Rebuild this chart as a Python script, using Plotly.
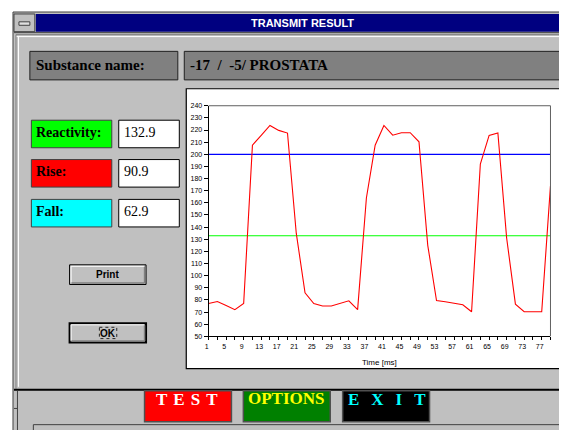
import plotly.graph_objects as go

# ---------------- data ----------------
time_ms = [1, 3, 5, 7, 9, 11, 13, 15, 17, 19, 21, 23, 25, 27, 29, 31, 33, 35, 37, 39,
           41, 43, 45, 47, 49, 51, 53, 55, 57, 59, 61, 63, 65, 67, 69, 71, 73, 75, 77, 79]
signal = [77, 78.7, 75.5, 72, 77, 207.5, 215.6, 223.8, 219.7, 217.5,
          135, 85.8, 77, 75, 75, 77, 79.3, 72, 164, 207.5,
          223.8, 215.7, 217.8, 217.8, 210.3, 125, 79.5, 78.5, 77.1, 76,
          70.3, 192, 215.6, 217.5, 131, 76.5, 70.3, 70.3, 70.3, 174]
x_tick_labels = [1, 5, 9, 13, 17, 21, 25, 29, 33, 37, 41, 45, 49, 53, 57, 61, 65, 69, 73, 77]
upper_limit = 200
reactivity = 132.9
rise = 90.9
fall = 62.9
substance = "-17\u00a0\u00a0/\u00a0\u00a0-5/ PROSTATA"

W, H = 567, 430
OFF = 8  # page margin of the html body


def X(v):
    return (v - OFF) / W


def Y(v):
    return 1 - (v - OFF) / H


shapes = []


def rect(x0, y0, x1, y1, fill, line="rgba(0,0,0,0)", lw=1, layer="below"):
    shapes.append(dict(type="rect", xref="paper", yref="paper",
                       x0=X(x0), x1=X(x1), y0=Y(y0), y1=Y(y1),
                       fillcolor=fill, line=dict(color=line, width=lw), layer=layer))


def line(x0, y0, x1, y1, color, lw=1, layer="below", dash=None):
    d = dict(color=color, width=lw)
    if dash:
        d["dash"] = dash
    shapes.append(dict(type="line", xref="paper", yref="paper",
                       x0=X(x0), x1=X(x1), y0=Y(y0), y1=Y(y1),
                       line=d, layer=layer))


def button3d(x0, y0, x1, y1, lw=1):
    rect(x0, y0, x1, y1, "#c0c0c0", "black", lw)
    line(x0 + 1.5, y0 + 1.5, x1 - 2, y0 + 1.5, "white", 1)
    line(x0 + 1.5, y0 + 1.5, x0 + 1.5, y1 - 2, "white", 1)
    line(x0 + 2, y1 - 1.5, x1 - 1.5, y1 - 1.5, "#808080", 1.5)
    line(x1 - 1.5, y0 + 2, x1 - 1.5, y1 - 1.5, "#808080", 1.5)


# window body
rect(9, 8, 580, 445, "#c0c0c0", "#404040", 1)
# title bar
rect(32, 10, 580, 28, "#000080")
rect(10, 10, 31, 28, "#c0c0c0", "#404040", 1)
rect(15, 18, 26, 21.5, "#e0e0e0", "#404040", 1)
line(10, 29, 580, 29, "#404040", 1)
# inner panel borders
line(12, 31, 580, 31, "#808080", 1)
line(12, 33, 580, 33, "white", 1)
line(12, 31, 12, 391, "#808080", 1)
line(14.5, 33, 14.5, 389, "white", 1)
# substance boxes
rect(26, 48, 175, 77, "#808080", "#202020", 1)
rect(181.5, 48, 562.5, 77, "#808080", "#202020", 1)
# chart white box
rect(183.5, 86, 563, 370.5, "white", "black", 1.2)
# parameter boxes
rect(27.5, 118, 108.5, 146, "#00ff00", "#404040", 1)
rect(115.5, 118, 176.5, 146, "white", "black", 1)
rect(27.5, 158, 108.5, 186, "#ff0000", "#404040", 1)
rect(115.5, 158, 176.5, 186, "white", "black", 1)
rect(27.5, 198.5, 108.5, 226.5, "#00ffff", "#404040", 1)
rect(115.5, 198.5, 176.5, 226.5, "white", "black", 1)
# push buttons
button3d(66, 265, 143, 285, 1)
button3d(66, 324.5, 143, 344, 2)
rect(96, 328.5, 113.5, 340, "rgba(0,0,0,0)", "black", 0.8)
shapes[-1]["line"]["dash"] = "dot"
# bottom toolbar
line(10, 392, 580, 392, "black", 2)
line(13.5, 393, 13.5, 445, "#404040", 1)
line(10, 411, 13.5, 411, "#404040", 1)
line(29.5, 427.5, 580, 427.5, "#404040", 1)
line(29.5, 427.5, 29.5, 445, "#404040", 1)
rect(141.5, 393, 229, 424.5, "#ff0000", "#505050", 1.5)
rect(241, 393, 328.5, 424.5, "#008000", "#505050", 1.5)
rect(341, 393, 428.5, 424.5, "#000000", "#505050", 1.5)
# chart frame (top/right)
line(206, 103.3, 550.3, 103.3, "#606060", 1, layer="above")
line(550.3, 103.3, 550.3, 337.7, "#606060", 1, layer="above")

ann = []
SERIF = "Liberation Serif, Times New Roman, serif"
SANS = "Liberation Sans, Arial, sans-serif"


def text(x, y, s, size, color="black", family=SERIF, xanchor="left", bold=False):
    if bold:
        s = "<b>" + s + "</b>"
    ann.append(dict(xref="paper", yref="paper", x=X(x), y=Y(y), text=s, showarrow=False,
                    xanchor=xanchor, yanchor="middle",
                    font=dict(family=family, size=size, color=color)))


text(301, 19, "TRANSMIT RESULT", 11, "white", SANS, "center", True)
text(30, 62, "Substance name:", 15, bold=True)
text(185, 62, substance, 15, bold=True)
text(30, 131, "Reactivity:", 14, bold=True)
text(30, 170, "Rise:", 14, bold=True)
text(30, 211, "Fall:", 14, bold=True)
text(118.5, 131, f"{reactivity:.1f}", 14)
text(118.5, 170, f"{rise:.1f}", 14)
text(118.5, 211, f"{fall:.1f}", 14)
text(104.5, 275, "Print", 10, "black", SANS, "center", True)
text(104.5, 334.5, "OK", 10, "black", SANS, "center", True)
text(378, 364, "Time [ms]", 8, "black", SANS, "center")
text(151, 402, '<span style="letter-spacing:6px">TEST</span>', 17, "white", bold=True)
text(284.5, 401, "OPTIONS", 17, "#ffff00", SERIF, "center", True)
text(344, 402, '<span style="letter-spacing:12px">EXIT</span>', 17, "#00ffff", bold=True)

fig = go.Figure()
fig.add_trace(go.Scatter(x=[time_ms[0], time_ms[-1]], y=[upper_limit, upper_limit], mode="lines",
                         line=dict(color="#0000ff", width=1.2), hoverinfo="skip"))
fig.add_trace(go.Scatter(x=[time_ms[0], time_ms[-1]], y=[reactivity, reactivity], mode="lines",
                         line=dict(color="#00ff00", width=1.2), hoverinfo="skip"))
fig.add_trace(go.Scatter(x=time_ms, y=signal, mode="lines",
                         line=dict(color="#ff0000", width=1.1)))

tickfont = dict(family=SANS, size=7, color="black")
fig.update_layout(
    width=W, height=H, margin=dict(l=0, r=0, t=0, b=0),
    paper_bgcolor="white", plot_bgcolor="rgba(0,0,0,0)", showlegend=False,
    shapes=shapes, annotations=ann,
    xaxis=dict(domain=[X(206), X(550.3)], range=[1, 79], tickmode="array",
               tickvals=x_tick_labels, ticktext=[str(v) for v in x_tick_labels],
               ticks="outside", ticklen=3, tickcolor="black", tickwidth=1,
               minor=dict(tickmode="array", tickvals=time_ms, ticks="outside", ticklen=3,
                          tickcolor="black", showgrid=False),
               showline=True, linecolor="black", linewidth=1, showgrid=False,
               zeroline=False, tickfont=tickfont, ticklabelshift=-2),
    yaxis=dict(domain=[Y(337.7), Y(103.3)], range=[50, 240], dtick=10, tick0=50,
               ticks="outside", ticklen=4, tickcolor="black", showline=True,
               linecolor="black", linewidth=1, showgrid=False, zeroline=False,
               tickfont=tickfont),
)
fig.write_html("out.html")
